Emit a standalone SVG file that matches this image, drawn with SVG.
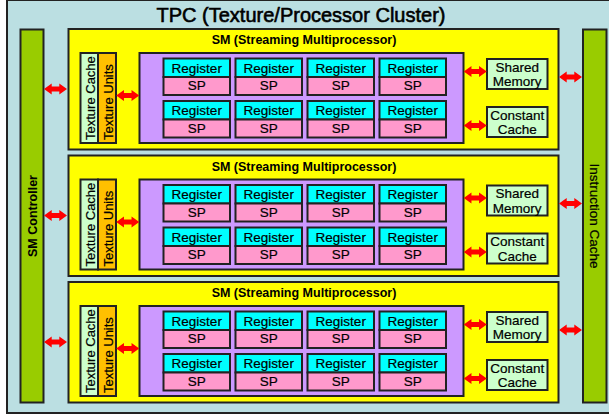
<svg xmlns="http://www.w3.org/2000/svg" width="609" height="416" viewBox="0 0 609 416">
<defs>
<style>
.bd{stroke:#222;stroke-width:2}
.tx{font-family:"Liberation Sans",Arial,sans-serif;font-size:13.5px;fill:#000;text-anchor:middle;stroke:#000;stroke-width:0.2}
.st{text-anchor:start;font-size:13px}
.b{font-weight:bold;stroke-width:0}
.sm{fill:#FFFF00}
.tc{fill:#CCFFCC}
.tu{fill:#FFC000}
.pa{fill:#CC99FF}
.rg{fill:#00FFFF}
.sp{fill:#FF99CC}
.gr{fill:#99CC00}
.ar{fill:#FF0000}
</style>
<path id="dbl" class="ar" d="M-11.5,0 L-3.8,-5.5 L-3.8,-2.4 L3.8,-2.4 L3.8,-5.5 L11.5,0 L3.8,5.5 L3.8,2.4 L-3.8,2.4 L-3.8,5.5 Z"/>
<g id="cellpair">
<rect class="bd rg" x="0" y="0" width="66.5" height="18.5"/>
<rect class="bd sp" x="0" y="18.5" width="66.5" height="18"/>
<text class="tx" x="33.25" y="14">Register</text>
<text class="tx" x="33.25" y="31.5">SP</text>
</g>
<g id="smbody">
<rect class="bd sm" x="68.5" y="0" width="490" height="120.5"/>
<text class="tx b" x="304" y="15.3" style="font-size:12.5px">SM (Streaming Multiprocessor)</text>
<g id="texcache">
<rect class="bd tc" x="80.5" y="24" width="17.5" height="90"/>
<text class="tx st" transform="translate(95 111) rotate(-90)">Texture Cache</text>
</g>
<g id="texunits">
<rect class="bd tu" x="98" y="24" width="18" height="90"/>
<text class="tx st" transform="translate(113 111) rotate(-90)">Texture Units</text>
</g>
<g id="procarray">
<rect class="bd pa" x="139.5" y="24" width="324" height="90"/>
<use href="#cellpair" x="163.5" y="29.5"/>
<use href="#cellpair" x="235.5" y="29.5"/>
<use href="#cellpair" x="307.5" y="29.5"/>
<use href="#cellpair" x="379.5" y="29.5"/>
<use href="#cellpair" x="163.5" y="72"/>
<use href="#cellpair" x="235.5" y="72"/>
<use href="#cellpair" x="307.5" y="72"/>
<use href="#cellpair" x="379.5" y="72"/>
</g>
<g id="sharedmem">
<rect class="bd tc" x="487" y="30" width="60.5" height="30"/>
<text class="tx" x="517.25" y="42.5">Shared</text>
<text class="tx" x="517.25" y="57">Memory</text>
</g>
<g id="constcache">
<rect class="bd tc" x="487" y="78" width="60.5" height="30"/>
<text class="tx" x="517.25" y="90.5">Constant</text>
<text class="tx" x="517.25" y="105">Cache</text>
</g>
</g>
<g id="smarrows">
<use href="#dbl" x="55.5" y="60"/>
<use href="#dbl" x="127.75" y="66.5"/>
<use href="#dbl" x="475.25" y="42.5"/>
<use href="#dbl" x="475.25" y="96.5"/>
<use href="#dbl" x="570.5" y="48"/>
</g>
</defs>

<g id="tpc">
<rect x="7" y="0" width="620" height="413" fill="#BBDFE2" stroke="#222" stroke-width="2"/>
<text class="tx" x="301" y="21.7" style="font-size:20px;stroke-width:0.6">TPC (Texture/Processor Cluster)</text>
</g>

<g id="sm-controller">
<rect class="bd gr" x="20.5" y="29.5" width="23" height="373"/>
<text class="tx b" transform="translate(36.5 216) rotate(-90)" style="font-size:12.5px">SM Controller</text>
</g>

<g id="instruction-cache">
<rect class="bd gr" x="583" y="29.5" width="23.5" height="373"/>
<text class="tx" transform="translate(589.5 216) rotate(90)">Instruction Cache</text>
</g>

<g id="sm1" transform="translate(0 29)"><use href="#smbody"/></g>
<g id="sm2" transform="translate(0 155.5)"><use href="#smbody"/></g>
<g id="sm3" transform="translate(0 282)"><use href="#smbody"/></g>

<g id="connectors">
<use href="#smarrows" y="29"/>
<use href="#smarrows" y="155.5"/>
<use href="#smarrows" y="282"/>
</g>
</svg>
